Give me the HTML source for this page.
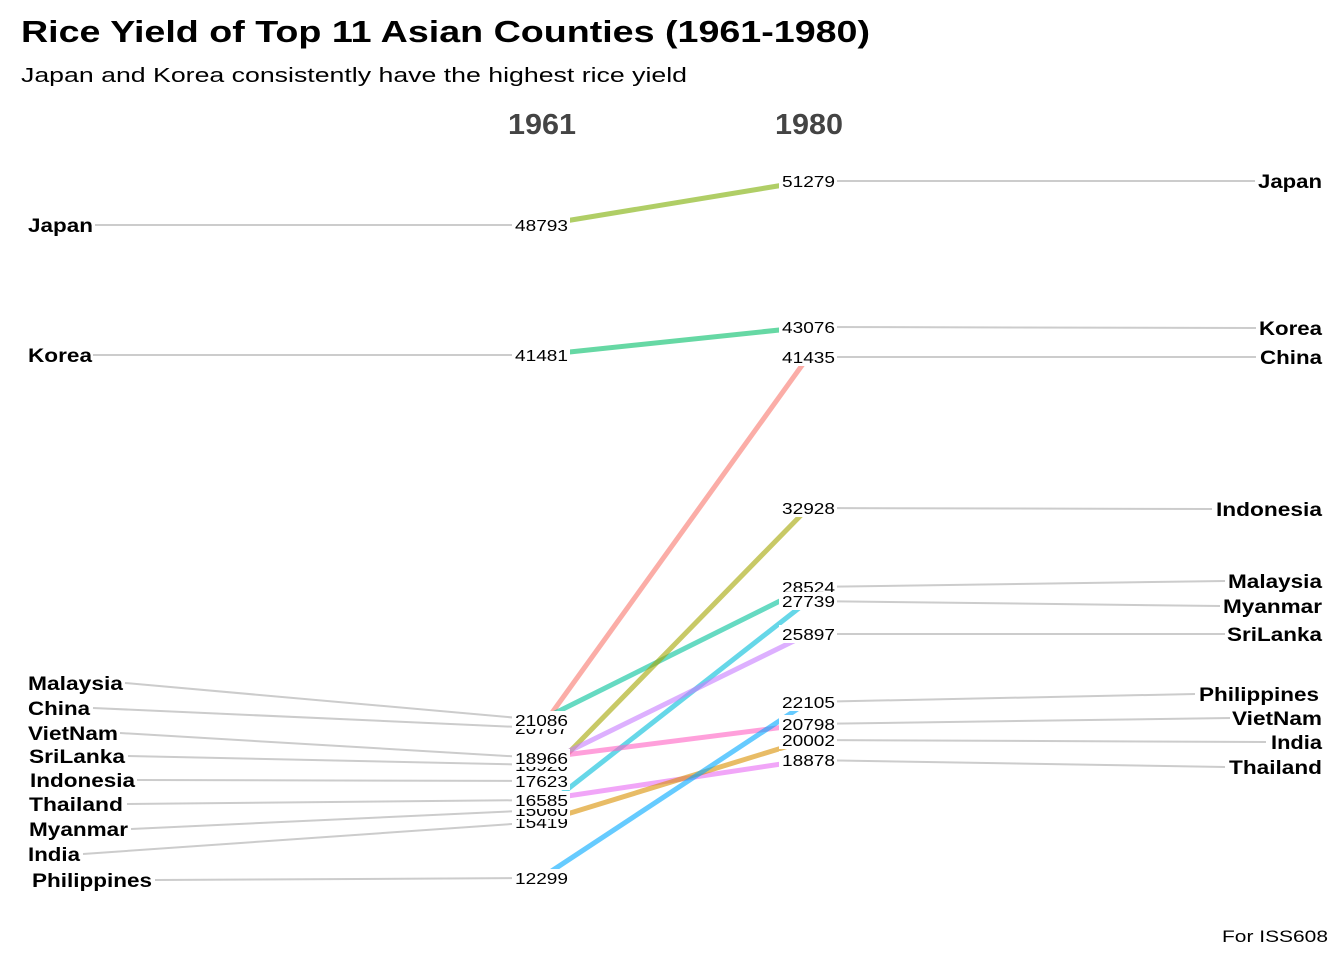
<!DOCTYPE html>
<html><head><meta charset="utf-8"><style>
html,body{margin:0;padding:0;background:#fff;}
svg{display:block;font-family:"Liberation Sans",Arial,sans-serif;}
.c{font-weight:bold;font-size:19px;fill:#000;}
.v{font-size:16px;fill:#000;}
.g{stroke:#cccccc;stroke-width:2;fill:none;}
.s{stroke-width:5;stroke-opacity:0.6;fill:none;}
</style></head><body>
<svg width="1344" height="960" viewBox="0 0 1344 960">
<text x="21" y="42" font-size="31" font-weight="bold" textLength="849" lengthAdjust="spacingAndGlyphs">Rice Yield of Top 11 Asian Counties (1961-1980)</text>
<text x="21" y="82" font-size="20" textLength="666" lengthAdjust="spacingAndGlyphs">Japan and Korea consistently have the highest rice yield</text>
<text x="508" y="134" font-size="29" font-weight="bold" fill="#444" textLength="68" lengthAdjust="spacingAndGlyphs">1961</text>
<text x="775" y="134" font-size="29" font-weight="bold" fill="#444" textLength="68" lengthAdjust="spacingAndGlyphs">1980</text>

<g class="g">
<line x1="95" y1="225" x2="541" y2="225"/>
<line x1="93" y1="355" x2="541" y2="355"/>
<line x1="125" y1="683" x2="541" y2="720"/>
<line x1="93" y1="708" x2="541" y2="728"/>
<line x1="120" y1="733" x2="541" y2="758"/>
<line x1="128" y1="756" x2="541" y2="765"/>
<line x1="137" y1="780" x2="541" y2="781"/>
<line x1="127" y1="804" x2="541" y2="800"/>
<line x1="131" y1="829" x2="541" y2="810"/>
<line x1="83" y1="854" x2="541" y2="822"/>
<line x1="155" y1="880" x2="541" y2="878"/>
</g>
<g class="g">
<line x1="808" y1="181" x2="1255" y2="181"/>
<line x1="808" y1="327" x2="1256" y2="328"/>
<line x1="808" y1="357" x2="1256" y2="357"/>
<line x1="808" y1="508" x2="1212" y2="509"/>
<line x1="808" y1="587" x2="1225" y2="581"/>
<line x1="808" y1="601" x2="1220" y2="606"/>
<line x1="808" y1="634" x2="1225" y2="634"/>
<line x1="808" y1="702" x2="1195" y2="694"/>
<line x1="808" y1="724" x2="1230" y2="718"/>
<line x1="808" y1="740" x2="1266" y2="742"/>
<line x1="808" y1="760" x2="1225" y2="767"/>
</g>
<g class="s">
<line x1="541" y1="225" x2="808" y2="181" stroke="#7CAE00"/>
<line x1="541" y1="355" x2="808" y2="327" stroke="#00BE67"/>
<line x1="541" y1="728" x2="808" y2="357" stroke="#F8766D"/>
<line x1="541" y1="720" x2="808" y2="587" stroke="#00C19A"/>
<line x1="541" y1="781" x2="808" y2="508" stroke="#A3A500"/>
<line x1="541" y1="810" x2="808" y2="601" stroke="#00BCD8"/>
<line x1="541" y1="765" x2="808" y2="634" stroke="#C77CFF"/>
<line x1="541" y1="758" x2="808" y2="724" stroke="#FF61C3"/>
<line x1="541" y1="800" x2="808" y2="760" stroke="#E76BF3"/>
<line x1="541" y1="822" x2="808" y2="740" stroke="#D89000"/>
<line x1="541" y1="878" x2="808" y2="702" stroke="#00A9FF"/>
</g>

<g class="v">
<g><rect x="512" y="216" width="58" height="18" fill="#fff"/><text x="515" y="231" textLength="53" lengthAdjust="spacingAndGlyphs">48793</text></g>
<g><rect x="512" y="346" width="58" height="18" fill="#fff"/><text x="515" y="361" textLength="53" lengthAdjust="spacingAndGlyphs">41481</text></g>
<g><rect x="512" y="719" width="58" height="18" fill="#fff"/><text x="515" y="734" textLength="53" lengthAdjust="spacingAndGlyphs">20787</text></g>
<g><rect x="512" y="711" width="58" height="18" fill="#fff"/><text x="515" y="726" textLength="53" lengthAdjust="spacingAndGlyphs">21086</text></g>
<g><rect x="512" y="756" width="58" height="18" fill="#fff"/><text x="515" y="771" textLength="53" lengthAdjust="spacingAndGlyphs">18920</text></g>
<g><rect x="512" y="749" width="58" height="18" fill="#fff"/><text x="515" y="764" textLength="53" lengthAdjust="spacingAndGlyphs">18966</text></g>
<g><rect x="512" y="772" width="58" height="18" fill="#fff"/><text x="515" y="787" textLength="53" lengthAdjust="spacingAndGlyphs">17623</text></g>
<g><rect x="512" y="813" width="58" height="18" fill="#fff"/><text x="515" y="828" textLength="53" lengthAdjust="spacingAndGlyphs">15419</text></g>
<g><rect x="512" y="801" width="58" height="18" fill="#fff"/><text x="515" y="816" textLength="53" lengthAdjust="spacingAndGlyphs">15060</text></g>
<g><rect x="512" y="791" width="58" height="18" fill="#fff"/><text x="515" y="806" textLength="53" lengthAdjust="spacingAndGlyphs">16585</text></g>
<g><rect x="512" y="869" width="58" height="18" fill="#fff"/><text x="515" y="884" textLength="53" lengthAdjust="spacingAndGlyphs">12299</text></g>
</g>
<g class="v">
<g><rect x="779" y="172" width="58" height="18" fill="#fff"/><text x="782" y="187" textLength="53" lengthAdjust="spacingAndGlyphs">51279</text></g>
<g><rect x="779" y="318" width="58" height="18" fill="#fff"/><text x="782" y="333" textLength="53" lengthAdjust="spacingAndGlyphs">43076</text></g>
<g><rect x="779" y="348" width="58" height="18" fill="#fff"/><text x="782" y="363" textLength="53" lengthAdjust="spacingAndGlyphs">41435</text></g>
<g><rect x="779" y="499" width="58" height="18" fill="#fff"/><text x="782" y="514" textLength="53" lengthAdjust="spacingAndGlyphs">32928</text></g>
<g><rect x="779" y="578" width="58" height="18" fill="#fff"/><text x="782" y="593" textLength="53" lengthAdjust="spacingAndGlyphs">28524</text></g>
<g><rect x="779" y="592" width="58" height="18" fill="#fff"/><text x="782" y="607" textLength="53" lengthAdjust="spacingAndGlyphs">27739</text></g>
<g><rect x="779" y="625" width="58" height="18" fill="#fff"/><text x="782" y="640" textLength="53" lengthAdjust="spacingAndGlyphs">25897</text></g>
<g><rect x="779" y="693" width="58" height="18" fill="#fff"/><text x="782" y="708" textLength="53" lengthAdjust="spacingAndGlyphs">22105</text></g>
<g><rect x="779" y="731" width="58" height="18" fill="#fff"/><text x="782" y="746" textLength="53" lengthAdjust="spacingAndGlyphs">20002</text></g>
<g><rect x="779" y="715" width="58" height="18" fill="#fff"/><text x="782" y="730" textLength="53" lengthAdjust="spacingAndGlyphs">20798</text></g>
<g><rect x="779" y="751" width="58" height="18" fill="#fff"/><text x="782" y="766" textLength="53" lengthAdjust="spacingAndGlyphs">18878</text></g>
</g>

<g class="c">
<text x="28" y="232" textLength="65" lengthAdjust="spacingAndGlyphs">Japan</text>
<text x="28" y="362" textLength="64" lengthAdjust="spacingAndGlyphs">Korea</text>
<text x="28" y="690" textLength="95" lengthAdjust="spacingAndGlyphs">Malaysia</text>
<text x="28" y="715" textLength="62" lengthAdjust="spacingAndGlyphs">China</text>
<text x="28" y="740" textLength="90" lengthAdjust="spacingAndGlyphs">VietNam</text>
<text x="29" y="763" textLength="96" lengthAdjust="spacingAndGlyphs">SriLanka</text>
<text x="30" y="787" textLength="105" lengthAdjust="spacingAndGlyphs">Indonesia</text>
<text x="29" y="811" textLength="94" lengthAdjust="spacingAndGlyphs">Thailand</text>
<text x="29" y="836" textLength="99" lengthAdjust="spacingAndGlyphs">Myanmar</text>
<text x="28" y="861" textLength="52" lengthAdjust="spacingAndGlyphs">India</text>
<text x="32" y="887" textLength="120" lengthAdjust="spacingAndGlyphs">Philippines</text>
</g>
<g class="c">
<text x="1258" y="188" textLength="64" lengthAdjust="spacingAndGlyphs">Japan</text>
<text x="1259" y="335" textLength="63" lengthAdjust="spacingAndGlyphs">Korea</text>
<text x="1260" y="364" textLength="62" lengthAdjust="spacingAndGlyphs">China</text>
<text x="1216" y="516" textLength="106" lengthAdjust="spacingAndGlyphs">Indonesia</text>
<text x="1228" y="588" textLength="94" lengthAdjust="spacingAndGlyphs">Malaysia</text>
<text x="1223" y="613" textLength="99" lengthAdjust="spacingAndGlyphs">Myanmar</text>
<text x="1227" y="641" textLength="95" lengthAdjust="spacingAndGlyphs">SriLanka</text>
<text x="1199" y="701" textLength="120" lengthAdjust="spacingAndGlyphs">Philippines</text>
<text x="1232" y="725" textLength="90" lengthAdjust="spacingAndGlyphs">VietNam</text>
<text x="1271" y="749" textLength="51" lengthAdjust="spacingAndGlyphs">India</text>
<text x="1229" y="774" textLength="93" lengthAdjust="spacingAndGlyphs">Thailand</text>
</g>
<text x="1222" y="942" font-size="17" textLength="106" lengthAdjust="spacingAndGlyphs">For ISS608</text>
</svg>
</body></html>
